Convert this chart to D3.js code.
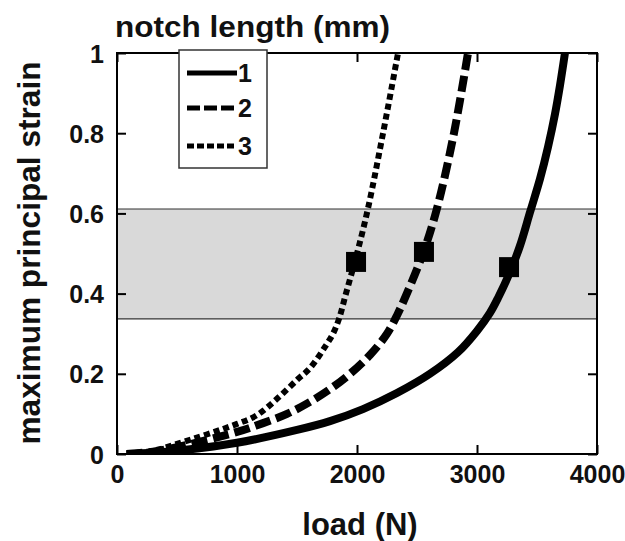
<!DOCTYPE html>
<html>
<head>
<meta charset="utf-8">
<script src="https://cdn.jsdelivr.net/npm/d3@7"></script>
<style>
  body { margin: 0; background: #fff; }
  svg text { font-family: "Liberation Sans", Arial, sans-serif; font-weight: bold; fill: #111; }
</style>
</head>
<body>
<script>
// notch length 1 (solid)
var load1 = [80, 300, 500, 1000, 1500, 1775, 2050, 2333, 2608, 2842, 3000, 3108, 3175, 3275, 3358, 3442, 3525, 3592, 3650, 3692, 3733];
var strain1 = [0, 0.003, 0.008, 0.028, 0.06, 0.082, 0.112, 0.152, 0.20, 0.254, 0.307, 0.352, 0.389, 0.454, 0.519, 0.603, 0.686, 0.766, 0.848, 0.92, 1.0];
// notch length 2 (dashed)
var load2 = [80, 300, 500, 1000, 1217, 1417, 1608, 1800, 1942, 2108, 2250, 2340, 2408, 2550, 2667, 2808, 2925];
var strain2 = [0, 0.006, 0.017, 0.055, 0.077, 0.10, 0.13, 0.167, 0.20, 0.247, 0.30, 0.35, 0.395, 0.50, 0.613, 0.80, 1.0];
// notch length 3 (dotted)
var load3 = [80, 300, 500, 1000, 1167, 1342, 1508, 1608, 1733, 1800, 1850, 1908, 2000, 2092, 2217, 2342];
var strain3 = [0, 0.008, 0.025, 0.075, 0.097, 0.14, 0.187, 0.214, 0.267, 0.30, 0.337, 0.40, 0.50, 0.613, 0.80, 1.0];

var markerLoad = [3267, 2558, 1992];
var markerStrain = [0.466, 0.504, 0.479];

var bandLow = 0.337, bandHigh = 0.611;

var legendLabels = ['1', '2', '3'];
var xTicks = [0, 1000, 2000, 3000, 4000];
var yTicks = [0, 0.2, 0.4, 0.6, 0.8, 1];

var svgW = 625, svgH = 541;
var plotL = 117, plotR = 597, plotT = 53, plotB = 454;

var svg = d3.select('body').append('svg').attr('width', svgW).attr('height', svgH);

var x = d3.scaleLinear().domain([0, 4000]).range([plotL, plotR]);
var y = d3.scaleLinear().domain([0, 1]).range([plotB, plotT]);

// shaded band
svg.append('rect')
   .attr('x', x(0)).attr('y', y(bandHigh))
   .attr('width', x(4000) - x(0)).attr('height', y(bandLow) - y(bandHigh))
   .attr('fill', '#d9d9d9');
[bandLow, bandHigh].forEach(function (v) {
  svg.append('line')
     .attr('x1', x(0)).attr('x2', x(4000))
     .attr('y1', y(v)).attr('y2', y(v))
     .attr('stroke', '#333').attr('stroke-width', 1.2);
});

var series = [
  { xs: load1, ys: strain1, w: 8, dash: null },
  { xs: load2, ys: strain2, w: 8, dash: '16,6' },
  { xs: load3, ys: strain3, w: 6, dash: '6,4' }
];

var line = d3.line()
  .x(function (d) { return x(d[0]); })
  .y(function (d) { return y(d[1]); })
  .curve(d3.curveCatmullRom.alpha(0.5));

svg.append('clipPath').attr('id', 'plot')
  .append('rect').attr('x', plotL).attr('y', plotT).attr('width', plotR - plotL).attr('height', plotB - plotT);

svg.append('g').attr('clip-path', 'url(#plot)')
   .selectAll('path')
   .data(series)
   .enter()
   .append('path')
   .attr('d', function (s) { return line(d3.zip(s.xs, s.ys)); })
   .attr('fill', 'none')
   .attr('stroke', '#000')
   .attr('stroke-width', function (s) { return s.w; })
   .attr('stroke-dasharray', function (s) { return s.dash; });

// markers
var ms = 20;
svg.selectAll('rect.marker')
   .data(d3.zip(markerLoad, markerStrain))
   .enter()
   .append('rect')
   .attr('class', 'marker')
   .attr('x', function (d) { return x(d[0]) - ms / 2; })
   .attr('y', function (d) { return y(d[1]) - ms / 2; })
   .attr('width', ms).attr('height', ms)
   .attr('fill', '#000');

// axes, ticks inward
var fmtY = function (d) { return d === 0 ? '0' : d === 1 ? '1' : d3.format('.1f')(d); };

var gx = svg.append('g').attr('transform', 'translate(0,' + plotB + ')')
  .call(d3.axisBottom(x).tickValues(xTicks).tickSize(-9).tickPadding(11).tickFormat(d3.format('d')));
var gy = svg.append('g').attr('transform', 'translate(' + plotL + ',0)')
  .call(d3.axisLeft(y).tickValues(yTicks).tickSize(-9).tickPadding(13).tickFormat(fmtY));
var gt = svg.append('g').attr('transform', 'translate(0,' + plotT + ')')
  .call(d3.axisTop(x).tickValues(xTicks).tickSize(-9).tickFormat(''));
var gr = svg.append('g').attr('transform', 'translate(' + plotR + ',0)')
  .call(d3.axisRight(y).tickValues(yTicks).tickSize(-9).tickFormat(''));

[gx, gy, gt, gr].forEach(function (g) {
  g.select('.domain').remove();
  g.selectAll('.tick line').attr('stroke', '#000').attr('stroke-width', 2);
});
gx.selectAll('text').style('font-size', '25px').attr('fill', '#111');
gy.selectAll('text').style('font-size', '25px').attr('fill', '#111').attr('dy', '0.36em');

svg.append('rect')
   .attr('x', plotL).attr('y', plotT)
   .attr('width', plotR - plotL).attr('height', plotB - plotT)
   .attr('fill', 'none').attr('stroke', '#000').attr('stroke-width', 2);

// titles
svg.append('text')
   .attr('x', 115).attr('y', 37)
   .style('font-size', '30px')
   .attr('textLength', 275).attr('lengthAdjust', 'spacingAndGlyphs')
   .text('notch length (mm)');

svg.append('text')
   .attr('x', 360).attr('y', 535)
   .attr('text-anchor', 'middle')
   .style('font-size', '31px')
   .text('load (N)');

svg.append('text')
   .attr('transform', 'translate(40,253) rotate(-90)')
   .attr('text-anchor', 'middle')
   .style('font-size', '31px')
   .attr('textLength', 383).attr('lengthAdjust', 'spacingAndGlyphs')
   .text('maximum principal strain');

// legend
var legend = svg.append('g');
legend.append('rect')
   .attr('x', 179).attr('y', 50).attr('width', 88).attr('height', 118)
   .attr('fill', '#fff').attr('stroke', '#333').attr('stroke-width', 1.5);

var legendDash = [null, '13,4', '7,3'];
var legendY = [73, 108, 146];
legend.selectAll('line')
   .data(legendLabels)
   .enter()
   .append('line')
   .attr('x1', 187).attr('x2', 237)
   .attr('y1', function (d, i) { return legendY[i]; })
   .attr('y2', function (d, i) { return legendY[i]; })
   .attr('stroke', '#000').attr('stroke-width', 5)
   .attr('stroke-dasharray', function (d, i) { return legendDash[i]; });

legend.selectAll('text')
   .data(legendLabels)
   .enter()
   .append('text')
   .attr('x', 238)
   .attr('y', function (d, i) { return legendY[i] + 9; })
   .style('font-size', '25px')
   .text(function (d) { return d; });
</script>
</body>
</html>
